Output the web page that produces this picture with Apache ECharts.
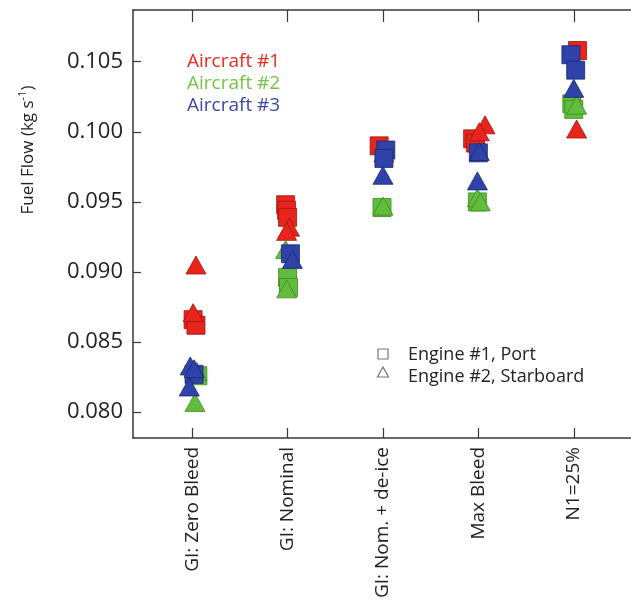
<!DOCTYPE html>
<html>
<head>
<meta charset="utf-8">
<title>Fuel flow by engine condition</title>
<script src="https://cdn.jsdelivr.net/npm/echarts@6/dist/echarts.min.js"></script>
<style>
  html, body { margin: 0; padding: 0; background: #ffffff; }
  #chart { width: 631px; height: 602px; }
</style>
</head>
<body>
<div id="chart"></div>
<script>
// Engine operating conditions along the x axis
const categories = ['GI: Zero Bleed', 'GI: Nominal', 'GI: Nom. + de-ice', 'Max Bleed', 'N1=25%'];

// Fuel-flow tick labels (kg s^-1)
const yTicks = [0.080, 0.085, 0.090, 0.095, 0.100, 0.105];

// Measurements: [condition index (1-based), fuel flow]
const ac1Port = [[1, 0.0866], [1, 0.0862], [2, 0.0948], [2, 0.0944], [2, 0.0939], [3, 0.0990], [4, 0.0995], [4, 0.0992], [5, 0.1058]];
const ac1Stbd = [[1, 0.0905], [1, 0.0871], [2, 0.0932], [2, 0.0929], [3, 0.0985], [4, 0.1005], [4, 0.1000], [5, 0.1002]];
const ac2Port = [[1, 0.0826], [2, 0.0896], [2, 0.0889], [3, 0.0946], [4, 0.0950], [5, 0.1020], [5, 0.1016]];
const ac2Stbd = [[1, 0.0829], [1, 0.0807], [2, 0.0916], [2, 0.0888], [3, 0.0947], [4, 0.0953], [4, 0.0950], [5, 0.1019]];
const ac3Port = [[1, 0.0827], [2, 0.0913], [3, 0.0987], [3, 0.0981], [4, 0.0985], [5, 0.1055], [5, 0.1044]];
const ac3Stbd = [[1, 0.0833], [1, 0.0831], [1, 0.0818], [2, 0.0909], [3, 0.0969], [4, 0.0986], [4, 0.0965], [5, 0.1031]];

// Small horizontal spread so overlapping repeats stay visible (category units)
const ac1PortSpread = [0.01, 0.04, -0.02, -0.01, 0.0, -0.04, -0.06, -0.03, 0.04];
const ac1StbdSpread = [0.04, 0.01, 0.02, -0.01, 0.01, 0.07, 0.01, 0.03];
const ac2PortSpread = [0.06, 0.0, 0.01, -0.01, -0.01, -0.02, 0.0];
const ac2StbdSpread = [0.05, 0.03, -0.02, -0.01, 0.0, -0.01, 0.02, 0.03];
const ac3PortSpread = [0.02, 0.03, 0.03, 0.01, 0.0, -0.03, 0.02];
const ac3StbdSpread = [-0.02, 0.02, -0.03, 0.05, 0.0, 0.01, -0.01, 0.0];

const RED = '#e8241d', RED_EDGE = '#9c1711';
const GREEN = '#63bd3c', GREEN_EDGE = '#3b8a21';
const BLUE = '#2e42a8', BLUE_EDGE = '#1b2875';
const AXIS = '#3a3a3a';
const FONT = '"Open Sans", "Noto Sans", sans-serif';

function spread(points, offsets) {
  return points.map((p, i) => [p[0] + offsets[i], p[1]]);
}

function series(name, points, offsets, symbol, fill, edge) {
  const isTri = symbol === 'triangle';
  return {
    name: name,
    type: 'scatter',
    xAxisIndex: 0,
    yAxisIndex: 0,
    symbol: symbol,
    symbolSize: isTri ? [20, 18] : [18, 18],
    itemStyle: { color: fill, borderColor: edge, borderWidth: 0.8, opacity: 1 },
    emphasis: { disabled: true },
    data: spread(points, offsets)
  };
}

const chart = echarts.init(document.getElementById('chart'), null, { renderer: 'canvas' });

chart.setOption({
  backgroundColor: '#ffffff',
  animation: false,
  grid: { left: 133, right: 0, top: 10, bottom: 164 },
  xAxis: [
    {
      type: 'value',
      position: 'bottom',
      min: 0.38,
      max: 5.6,
      splitLine: { show: false },
      axisLine: { show: true, onZero: false, lineStyle: { color: AXIS, width: 1.5 } },
      axisTick: { show: true, inside: true, length: 10, customValues: [1, 2, 3, 4, 5], lineStyle: { color: AXIS, width: 1.2 } },
      axisLabel: {
        customValues: [1, 2, 3, 4, 5],
        rotate: 90,
        margin: 9,
        fontFamily: FONT,
        fontSize: 19,
        color: '#222',
        formatter: v => categories[Math.round(v) - 1]
      }
    },
    {
      type: 'value',
      position: 'top',
      min: 0.38,
      max: 5.6,
      splitLine: { show: false },
      axisLine: { show: true, onZero: false, lineStyle: { color: AXIS, width: 1.5 } },
      axisTick: { show: true, inside: true, length: 12, customValues: [1, 2, 3, 4, 5], lineStyle: { color: AXIS, width: 1.2 } },
      axisLabel: { show: false }
    }
  ],
  yAxis: {
    type: 'value',
    min: 0.07816,
    max: 0.10869,
    splitLine: { show: false },
    axisLine: { show: true, onZero: false, lineStyle: { color: AXIS, width: 1.5 } },
    axisTick: { show: true, inside: true, length: 8, customValues: yTicks, lineStyle: { color: AXIS, width: 1.2 } },
    axisLabel: {
      customValues: yTicks,
      margin: 10,
      fontFamily: FONT,
      fontSize: 22,
      color: '#222',
      formatter: v => v.toFixed(3)
    }
  },
  graphic: [
    {
      type: 'text',
      x: 28,
      y: 150,
      rotation: Math.PI / 2,
      style: {
        text: '{a|Fuel Flow (kg s}{s|-1}{a|)}',
        align: 'center',
        verticalAlign: 'middle',
        rich: {
          a: { fontFamily: FONT, fontSize: 17, fill: '#222', color: '#222' },
          s: { fontFamily: FONT, fontSize: 11, fill: '#222', color: '#222', verticalAlign: 'top', padding: [0, 0, 10, 0] }
        }
      }
    },
    { type: 'text', x: 187, y: 62, style: { text: 'Aircraft #1', fill: '#ec2a24', fontFamily: FONT, fontSize: 19, verticalAlign: 'middle' } },
    { type: 'text', x: 187, y: 84, style: { text: 'Aircraft #2', fill: '#78c244', fontFamily: FONT, fontSize: 19, verticalAlign: 'middle' } },
    { type: 'text', x: 187, y: 106, style: { text: 'Aircraft #3', fill: '#3c47a6', fontFamily: FONT, fontSize: 19, verticalAlign: 'middle' } },
    { type: 'rect', shape: { x: 378, y: 349, width: 10, height: 10 }, style: { fill: 'none', stroke: '#777', lineWidth: 1.2 } },
    { type: 'polygon', shape: { points: [[383, 367], [377.5, 377], [388.5, 377]] }, style: { fill: 'none', stroke: '#777', lineWidth: 1.2 } },
    { type: 'text', x: 408, y: 355, style: { text: 'Engine #1, Port', fill: '#222', fontFamily: FONT, fontSize: 18, verticalAlign: 'middle' } },
    { type: 'text', x: 408, y: 377, style: { text: 'Engine #2, Starboard', fill: '#222', fontFamily: FONT, fontSize: 18, verticalAlign: 'middle' } }
  ],
  series: [
    series('Aircraft #1, Engine #1', ac1Port, ac1PortSpread, 'rect', RED, RED_EDGE),
    series('Aircraft #1, Engine #2', ac1Stbd, ac1StbdSpread, 'triangle', RED, RED_EDGE),
    series('Aircraft #2, Engine #1', ac2Port, ac2PortSpread, 'rect', GREEN, GREEN_EDGE),
    series('Aircraft #2, Engine #2', ac2Stbd, ac2StbdSpread, 'triangle', GREEN, GREEN_EDGE),
    series('Aircraft #3, Engine #1', ac3Port, ac3PortSpread, 'rect', BLUE, BLUE_EDGE),
    series('Aircraft #3, Engine #2', ac3Stbd, ac3StbdSpread, 'triangle', BLUE, BLUE_EDGE)
  ]
});
</script>
</body>
</html>
